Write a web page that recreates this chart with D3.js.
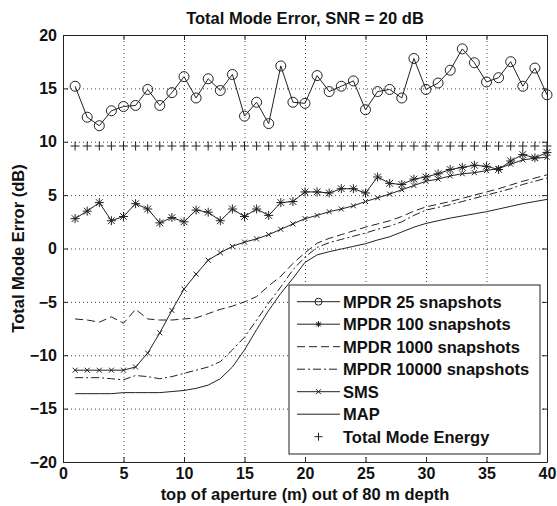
<!DOCTYPE html>
<html lang="en">
<head>
<meta charset="UTF-8">
<title>Total Mode Error, SNR = 20 dB</title>
<style>
    body { margin: 0; background: #fff; }
    text { font-family: "Liberation Sans", Arial, sans-serif; font-weight: bold; fill: #111; }
    .grid line { stroke: #444; stroke-dasharray: 1,3; }
    .grid path { display: none; }
    .axis path, .axis line { stroke: #222; }
    .axis text { font-size: 16px; }
    .series { fill: none; stroke: #222; stroke-width: 1; }
    .marker { fill: none; stroke: #222; stroke-width: 1; }
</style>
</head>
<body>
<svg id="chart" width="557" height="506"></svg>

<script src="https://cdn.jsdelivr.net/npm/d3@7"></script>
<script>

    // aperture top (m), one point per metre
    let depth = d3.range(1, 41)

    let mpdr25 = [15.2, 12.3, 11.5, 12.9, 13.3, 13.4, 14.9, 13.4, 14.6, 16.1,
                  14.1, 15.9, 14.8, 16.3, 12.4, 13.7, 11.7, 17.1, 13.7, 13.6,
                  16.2, 14.7, 15.2, 15.7, 13.0, 14.7, 14.9, 14.1, 17.8, 14.9,
                  15.5, 16.7, 18.7, 17.4, 15.6, 16.0, 17.5, 15.2, 16.9, 14.4]

    let mpdr100 = [2.8, 3.5, 4.3, 2.6, 3.0, 4.2, 3.7, 2.4, 2.9, 2.5,
                   3.6, 3.4, 2.6, 3.7, 3.0, 3.7, 3.1, 4.3, 4.4, 5.3,
                   5.3, 5.2, 5.6, 5.6, 5.2, 6.7, 6.1, 6.0, 6.5, 6.7,
                   7.0, 7.4, 7.6, 7.8, 7.7, 7.4, 8.2, 8.8, 8.5, 9.0]

    let mpdr1000 = [-6.6, -6.7, -6.9, -6.4, -7.0, -5.7, -6.6, -6.7, -6.7, -6.6,
                    -6.5, -6.1, -5.7, -5.4, -5.0, -4.5, -3.5, -2.6, -1.4, -0.4,
                    0.5, 0.95, 1.3, 1.65, 2.0, 2.3, 2.6, 3.0, 3.5, 3.9,
                    4.15, 4.4, 4.7, 5.0, 5.3, 5.6, 5.95, 6.3, 6.6, 6.9]

    let mpdr10000 = [-12.1, -12.1, -12.1, -12.2, -12.3, -11.9, -12.0, -12.2, -12.0, -11.7,
                     -11.4, -11.1, -10.6, -9.5, -8.3, -6.7, -5.1, -3.6, -2.0, -0.8,
                     0.1, 0.55, 0.85, 1.15, 1.45, 1.8, 2.1, 2.5, 3.1, 3.6,
                     3.85, 4.1, 4.4, 4.7, 5.0, 5.3, 5.6, 6.0, 6.3, 6.6]

    let sms = [-11.4, -11.4, -11.4, -11.4, -11.4, -11.1, -9.8, -7.9, -5.8, -3.8,
               -2.4, -1.1, -0.4, 0.2, 0.6, 0.9, 1.3, 1.8, 2.3, 2.8,
               3.1, 3.45, 3.7, 4.0, 4.4, 4.75, 5.1, 5.5, 5.9, 6.3,
               6.5, 6.8, 7.0, 7.1, 7.3, 7.5, 7.9, 8.3, 8.45, 8.55]

    let map = [-13.6, -13.6, -13.6, -13.6, -13.5, -13.5, -13.5, -13.5, -13.4, -13.3,
               -13.1, -12.8, -12.2, -11.1, -9.5, -7.6, -5.8, -4.2, -2.8, -1.3,
               -0.6, -0.3, -0.05, 0.2, 0.45, 0.8, 1.1, 1.55, 2.0, 2.35,
               2.6, 2.85, 3.05, 3.25, 3.45, 3.7, 3.95, 4.2, 4.4, 4.6]

    let totalEnergy = [9.6, 9.6, 9.6, 9.6, 9.6, 9.6, 9.6, 9.6, 9.6, 9.6,
                       9.6, 9.6, 9.6, 9.6, 9.6, 9.6, 9.6, 9.6, 9.6, 9.6,
                       9.6, 9.6, 9.6, 9.6, 9.6, 9.6, 9.6, 9.6, 9.6, 9.6,
                       9.6, 9.6, 9.6, 9.6, 9.6, 9.6, 9.6, 9.6, 9.6, 9.6]

    let xTicks = [0, 5, 10, 15, 20, 25, 30, 35, 40]
    let yTicks = [-20, -15, -10, -5, 0, 5, 10, 15, 20]

    let legendNames = ["MPDR 25 snapshots", "MPDR 100 snapshots", "MPDR 1000 snapshots",
                       "MPDR 10000 snapshots", "SMS", "MAP", "Total Mode Energy"]

    let svg = d3.select("#chart")

    let plotLeft = 63, plotRight = 547, plotTop = 35, plotBottom = 462

    let x = d3.scaleLinear().domain([0, 40]).range([plotLeft, plotRight])
    let y = d3.scaleLinear().domain([-20, 20]).range([plotBottom, plotTop])

    // dotted grid
    svg.append("g")
        .attr("class", "grid")
        .attr("transform", `translate(0,${plotBottom})`)
        .call(d3.axisBottom(x).tickValues(xTicks).tickSize(-(plotBottom - plotTop)).tickFormat(""))
    svg.append("g")
        .attr("class", "grid")
        .attr("transform", `translate(${plotLeft},0)`)
        .call(d3.axisLeft(y).tickValues(yTicks).tickSize(-(plotRight - plotLeft)).tickFormat(""))

    // box with inward ticks on all four sides
    svg.append("g").attr("class", "axis")
        .attr("transform", `translate(0,${plotBottom})`)
        .call(d3.axisBottom(x).tickValues(xTicks).tickSizeInner(-5).tickSizeOuter(0).tickPadding(6))
    svg.append("g").attr("class", "axis")
        .attr("transform", `translate(0,${plotTop})`)
        .call(d3.axisTop(x).tickValues(xTicks).tickSizeInner(-5).tickSizeOuter(0).tickFormat(""))
    svg.append("g").attr("class", "axis")
        .attr("transform", `translate(${plotLeft},0)`)
        .call(d3.axisLeft(y).tickValues(yTicks).tickSizeInner(-5).tickSizeOuter(0).tickPadding(6))
    svg.append("g").attr("class", "axis")
        .attr("transform", `translate(${plotRight},0)`)
        .call(d3.axisRight(y).tickValues(yTicks).tickSizeInner(-5).tickSizeOuter(0).tickFormat(""))

    let line = d3.line()
        .x((d, i) => x(depth[i]))
        .y(d => y(d))

    function drawLine(values, dash) {
        svg.append("path")
            .attr("class", "series")
            .attr("d", line(values))
            .attr("stroke-dasharray", dash)
    }

    drawLine(mpdr25, null)
    drawLine(mpdr100, null)
    drawLine(mpdr1000, "8,4")
    drawLine(mpdr10000, "8,3,2,3")
    drawLine(sms, null)
    drawLine(map, null)

    // marker shapes
    let circle = r => d3.symbol().type(d3.symbolCircle).size(Math.PI * r * r)()
    let plus = r => d3.symbol().type(d3.symbolPlus).size(r * r * 1.3 + 2)()
    let times = r => d3.symbol().type(d3.symbolTimes).size(r * r * 2.61 + 1.7)()
    let asterisk = r => plus(r) + times(r * 0.75)

    function drawMarkers(values, shape) {
        svg.append("g")
            .selectAll("path")
            .data(values)
            .enter()
            .append("path")
            .attr("class", "marker")
            .attr("transform", (d, i) => `translate(${x(depth[i])},${y(d)})`)
            .attr("d", shape)
    }

    drawMarkers(mpdr25, circle(5))
    drawMarkers(mpdr100, asterisk(4.5))
    drawMarkers(sms, times(2.5))
    drawMarkers(totalEnergy, plus(4.5))

    // legend
    let legend = svg.append("g")
    legend.append("rect")
        .attr("x", 289).attr("y", 285)
        .attr("width", 251).attr("height", 169)
        .attr("fill", "#fff").attr("stroke", "#222")

    let legendStyle = [
        { dash: null, mark: circle(3.5), line: true },
        { dash: null, mark: asterisk(3), line: true },
        { dash: "8,4", mark: null, line: true },
        { dash: "8,3,2,3", mark: null, line: true },
        { dash: null, mark: times(2.5), line: true },
        { dash: null, mark: null, line: true },
        { dash: null, mark: plus(4), line: false }
    ]

    let rows = legend.selectAll(".row")
        .data(legendNames)
        .enter()
        .append("g")
        .attr("transform", (d, i) => `translate(0,${301.7 + i * 22.5})`)

    rows.filter((d, i) => legendStyle[i].line)
        .append("line")
        .attr("x1", 297).attr("x2", 340)
        .attr("stroke", "#222")
        .attr("stroke-dasharray", d => legendStyle[legendNames.indexOf(d)].dash)

    rows.filter((d, i) => legendStyle[i].mark)
        .append("path")
        .attr("class", "marker")
        .attr("transform", "translate(318.5,0)")
        .attr("d", d => legendStyle[legendNames.indexOf(d)].mark)

    rows.append("text")
        .attr("x", 343)
        .attr("y", 6)
        .attr("font-size", 16.5)
        .text(d => d)

    // titles
    svg.append("text")
        .attr("x", (plotLeft + plotRight) / 2)
        .attr("y", 24)
        .attr("text-anchor", "middle")
        .attr("font-size", 16.5)
        .text("Total Mode Error, SNR = 20 dB")

    svg.append("text")
        .attr("x", (plotLeft + plotRight) / 2)
        .attr("y", 500)
        .attr("text-anchor", "middle")
        .attr("font-size", 16.5)
        .text("top of aperture (m) out of 80 m depth")

    svg.append("text")
        .attr("transform", `translate(24,${(plotTop + plotBottom) / 2}) rotate(-90)`)
        .attr("text-anchor", "middle")
        .attr("font-size", 16.5)
        .text("Total Mode Error (dB)")

</script>
</body>
</html>
